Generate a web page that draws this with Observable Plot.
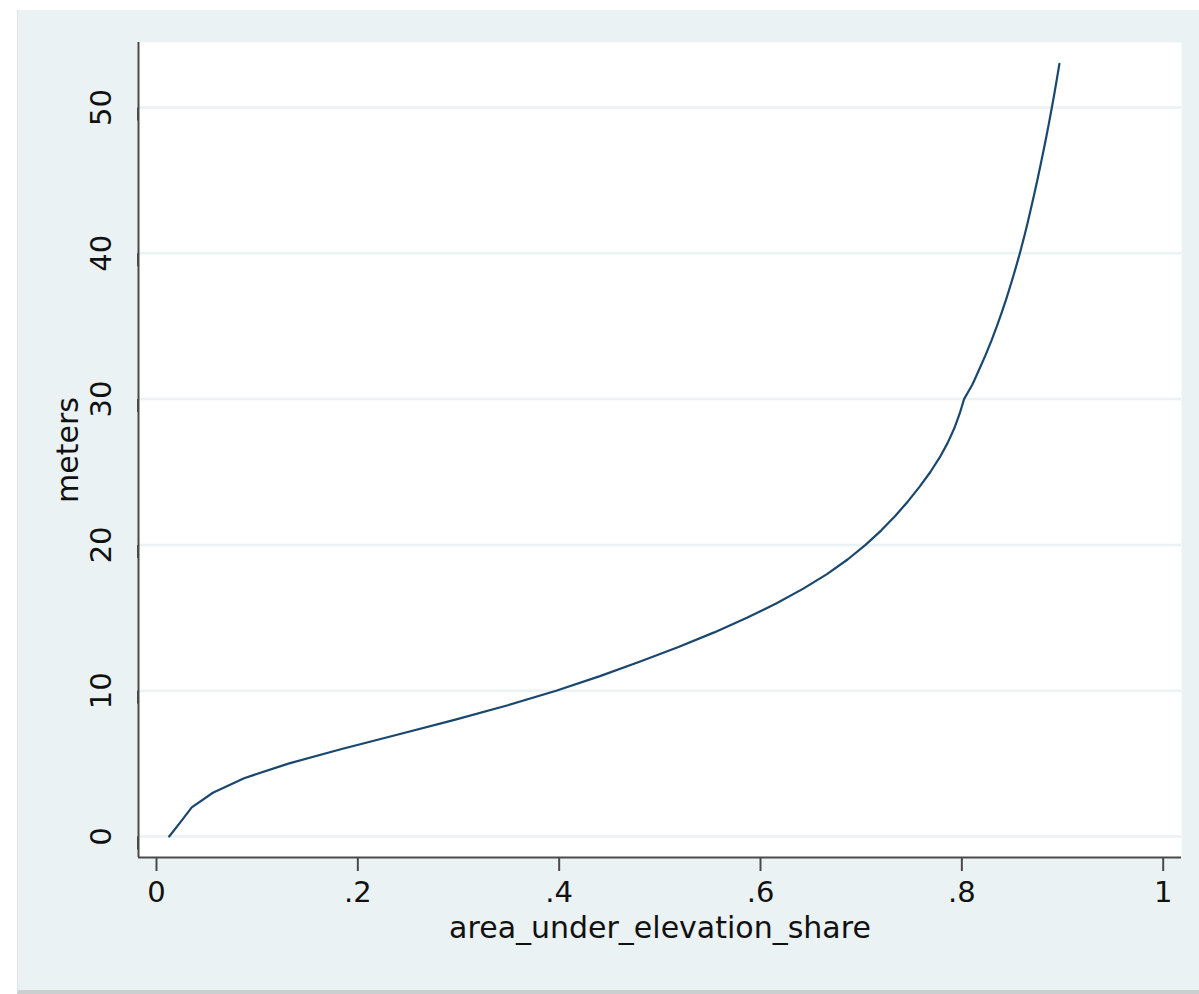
<!DOCTYPE html>
<html>
<head>
<meta charset="utf-8">
<script src="https://cdn.jsdelivr.net/npm/d3@7"></script>
<script src="https://cdn.jsdelivr.net/npm/@observablehq/plot@0.6"></script>
<style>
  html, body { margin: 0; padding: 0; background: #ffffff; }
  #chart {
    position: absolute; left: 17px; top: 10px;
    width: 1182px; height: 980px;
    background: #EAF2F3;
    border-left: 1px solid #dfe5e7;
    border-bottom: 4px solid #cbcfd0;
    box-sizing: content-box;
  }
  #chart svg { display: block; }
</style>
</head>
<body>
<div id="chart"></div>
<script>
// elevation in meters
const meters = [0,1,2,3,4,5,6,7,8,9,10,11,12,13,14,15,16,17,18,19,20,21,22,23,24,25,26,27,28,29,30,31,32,33,34,35,36,37,38,39,40,41,42,43,44,45,46,47,48,49,50,51,52,53];
// share of area under that elevation
const share = [0.0126,0.024,0.035,0.056,0.087,0.131,0.184,0.240,0.296,0.349,0.397,
  0.4405,0.4805,0.5185,0.554,0.5865,0.616,0.6425,0.666,0.6865,0.7043,
  0.72,0.734,0.7466,0.7581,0.7687,0.778,0.7859,0.7925,0.7978,0.8022,
  0.8105,0.817,0.8234,0.8293,0.8348,0.8399,0.8447,0.8492,0.8535,0.8576,
  0.8614,0.865,0.8684,0.8717,0.8749,0.878,0.881,0.8839,0.8867,0.8894,
  0.892,0.8945,0.8969];
const xTicks = [0, 0.2, 0.4, 0.6, 0.8, 1];
const yTicks = [0, 10, 20, 30, 40, 50];
const xTitle = "area_under_elevation_share";
const yTitle = "meters";

const data = meters.map((m, i) => ({m, s: share[i]}));
const xDomain = [-0.01788, 1.01818];
const yDomain = [-1.44, 54.46];
const fmtX = d => d === 0 ? "0" : d === 1 ? "1" : String(d).replace(/^0/, "");

const axisColor = "#4a4a4a";
const chart = Plot.plot({
  width: 1182,
  height: 980,
  marginLeft: 120,
  marginTop: 32,
  marginRight: 19,
  marginBottom: 133,
  style: {background: "transparent", fontFamily: "'DejaVu Sans', sans-serif", color: "#111"},
  x: {domain: xDomain},
  y: {domain: yDomain},
  marks: [
    Plot.frame({fill: "white", stroke: null}),
    Plot.gridY(yTicks, {stroke: "#EAF2F3", strokeOpacity: 1, strokeWidth: 2.5}),
    Plot.line(data, {x: "s", y: "m", stroke: "#1A476F", strokeWidth: 2.2, strokeLinejoin: "round"}),
    Plot.ruleY([yDomain[0]], {stroke: axisColor, strokeWidth: 2}),
    Plot.ruleX([xDomain[0]], {stroke: axisColor, strokeWidth: 2}),
    Plot.axisX(xTicks, {tickSize: 14, tickPadding: 10, tickFormat: fmtX, fontSize: 29, stroke: axisColor, strokeWidth: 2, fill: "#111", label: null}),
    Plot.axisY(yTicks, {tickSize: 13, tickPadding: 15, tickFormat: d => String(d), fontSize: 29, rotate: -90, textAnchor: "middle", lineAnchor: "bottom", stroke: axisColor, strokeWidth: 2, fill: "#111", label: null}),
    Plot.text([xTitle], {frameAnchor: "bottom", dy: 80, lineAnchor: "bottom", fontSize: 30, fill: "#111"}),
    Plot.text([yTitle], {frameAnchor: "left", dx: -70, rotate: -90, textAnchor: "middle", lineAnchor: "middle", fontSize: 30, fill: "#111"})
  ]
});
document.getElementById("chart").appendChild(chart);
</script>
</body>
</html>
